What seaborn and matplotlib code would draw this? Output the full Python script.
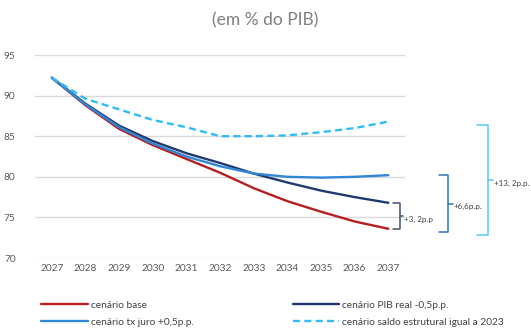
import matplotlib
matplotlib.use("Agg")
import matplotlib.pyplot as plt
import seaborn as sns
import pandas as pd

years = list(range(2027, 2038))
base = [92.2, 88.8, 85.9, 83.9, 82.2, 80.5, 78.6, 77.0, 75.7, 74.5, 73.6]
pib_real = [92.2, 89.0, 86.3, 84.4, 82.9, 81.7, 80.4, 79.3, 78.3, 77.5, 76.8]
tx_juro = [92.2, 88.9, 86.1, 84.1, 82.5, 81.3, 80.4, 80.0, 79.9, 80.0, 80.2]
saldo = [92.2, 89.6, 88.3, 87.0, 86.1, 85.0, 85.0, 85.1, 85.5, 86.0, 86.8]

labels = ["cenário base", "cenário PIB real -0,5p.p.",
          "cenário tx juro +0,5p.p.", "cenário saldo estrutural igual a 2023"]
colors = ["#b51f1f", "#1f3a6e", "#3187d6", "#2fbdf3"]
gaps = ["+3, 2p.p", "+6,6p.p.", "+13, 2p.p."]
yticks = [70, 75, 80, 85, 90, 95]

sns.set_theme(style="white")
plt.rcParams["font.family"] = ["Lato", "DejaVu Sans"]

df = pd.DataFrame({"ano": years * 4,
                   "valor": base + pib_real + tx_juro + saldo,
                   "cenario": sum([[l] * len(years) for l in labels], [])})

fig = plt.figure(figsize=(5.31, 3.34), dpi=100)
ax = fig.add_axes([0.066, 0.2275, 0.697, 0.6078])

sns.lineplot(data=df, x="ano", y="valor", hue="cenario", hue_order=labels,
             palette=colors, style="cenario", style_order=labels,
             dashes={labels[0]: "", labels[1]: "", labels[2]: "", labels[3]: (3, 1.8)},
             linewidth=1.7, ax=ax, legend=False)

ax.set_xlim(2026.5, 2037.5)
ax.set_ylim(70, 95)
ax.set_xticks(years)
ax.set_yticks(yticks)
ax.set_xlabel("")
ax.set_ylabel("")
ax.grid(axis="y", color="#d9d9d9", linewidth=1)
ax.grid(axis="x", visible=False)
for s in ax.spines.values():
    s.set_visible(False)
ax.tick_params(axis="both", labelsize=7.3, colors="#595959", length=0, pad=4)
ax.tick_params(axis="y", pad=14)

fig.text(0.5, 0.94, "(em % do PIB)", ha="center", va="center",
         fontsize=12.5, color="#7f7f7f")


def brace(x0, width, y_top, y_bot, color, text):
    x1 = x0 + width
    ax.plot([x0, x1, x1, x0], [y_top, y_top, y_bot, y_bot], color=color,
            lw=1.1, clip_on=False, solid_joinstyle="round")
    ym = (y_top + y_bot) / 2
    ax.plot([x1, x1 + width * 0.5], [ym, ym], color=color, lw=1.1, clip_on=False)
    ax.text(x1 + width * 0.6, ym - 0.4, text, fontsize=5.8, color="#404040",
            ha="left", va="center", clip_on=False)


end = len(years) - 1
brace(2037.15, 0.2, pib_real[end], base[end], "#44546a", gaps[0])
brace(2038.5, 0.28, tx_juro[end], base[end] - 0.4, "#2e75b6", gaps[1])
brace(2039.65, 0.3, saldo[end] - 0.4, base[end] - 0.8, "#5bc8f5", gaps[2])

handles = [plt.Line2D([], [], color=colors[i], lw=1.7,
                      linestyle=(0, (3, 1.8)) if i == 3 else "-") for i in range(4)]
order = [0, 2, 1, 3]
fig.legend([handles[i] for i in order], [labels[i] for i in order],
           loc="lower left", bbox_to_anchor=(0.06, -0.005), ncol=2, frameon=False,
           fontsize=7.3, handlelength=4.6, handletextpad=0.3,
           columnspacing=9.8, labelspacing=0.75, labelcolor="#404040")

fig.savefig("out.png", dpi=100)
